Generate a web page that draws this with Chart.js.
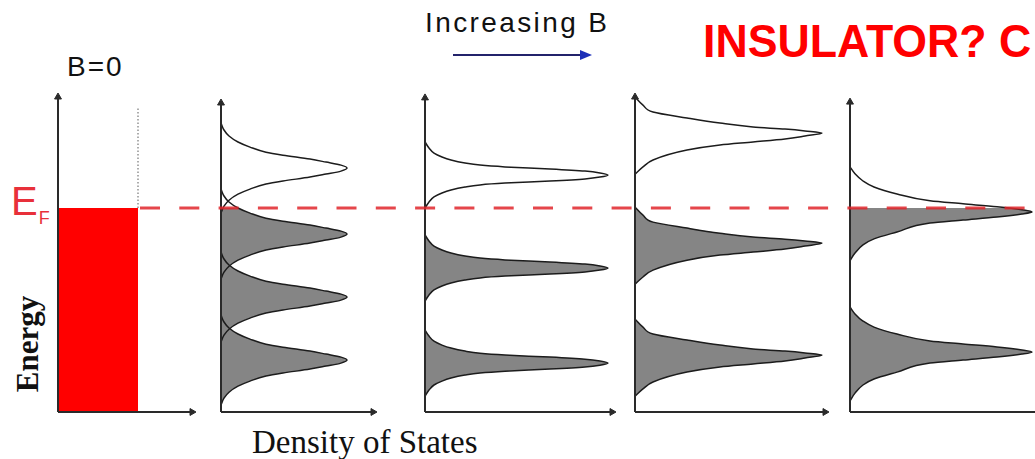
<!DOCTYPE html>
<html>
<head>
<meta charset="utf-8">
<title>Landau levels - density of states</title>
<script src="https://cdn.jsdelivr.net/npm/chart.js@4.4.1/dist/chart.umd.min.js"></script>
<style>
  html, body { margin: 0; padding: 0; background: #fff; }
  body { position: relative; width: 1035px; height: 459px; overflow: hidden; font-family: "Liberation Sans", Arial, sans-serif; }
  canvas { position: absolute; }
  .txt { position: absolute; white-space: nowrap; line-height: 1; }
</style>
</head>
<body>
<div class="txt" style="left:67px;top:53px;font-size:28px;letter-spacing:2px;color:#111">B=0</div>
<div class="txt" style="left:425px;top:9px;font-size:28px;letter-spacing:2.4px;color:#111">Increasing B</div>
<svg style="position:absolute;left:450px;top:48px" width="145" height="14">
  <line x1="3" y1="7" x2="132" y2="7" stroke="#23236b" stroke-width="2"/>
  <polygon points="130,2 142,7 130,12" fill="#1c2fb8"/>
</svg>
<div class="txt" style="left:703px;top:17px;font-size:47px;font-weight:bold;color:#ff0000;transform:scaleX(0.95);transform-origin:left top">INSULATOR? C</div>
<div class="txt" style="left:11px;top:181px;font-size:40px;color:#e8303a">E<span style="font-size:18px;position:relative;top:9px;left:1px">F</span></div>
<div class="txt" style="left:-32px;top:326px;width:120px;text-align:center;font:bold 31px 'Liberation Serif',serif;transform:rotate(-90deg);color:#111">Energy</div>
<div class="txt" style="left:252px;top:424px;font:33px 'Liberation Serif',serif;color:#111">Density of States</div>

<script>
// energies in arbitrary units (0..105), density of states in arbitrary units
const E_FERMI = 68;
const E_MAX = 105;

// B = 0: flat DOS, filled up to the Fermi level, dotted above
const b0Dos = 40;
const b0DottedTop = 101.3;

// length of the DOS axis and top of the energy axis, panel by panel
const axisLength = [67, 76, 93.5, 95, 100];
const axisTop = [105, 103, 104.7, 105, 103.3];

// Landau level energies in each B > 0 panel
const levels1 = [17.3, 38.3, 59.3, 81.3];
const levels2 = [16.3, 48, 79];
const levels3 = [19, 56.3, 93];
const levels4 = [20, 66.7];

// peak outline of each panel: energy offset from the level, and DOS
const shape1E = [-15, -12.7, -10.7, -8.7, -7, -5.3, -4.3, -3, -2, -1, 0, 1, 2, 3, 4.3, 5.3, 7, 8.7, 10.7, 12.7, 15];
const shape1Dos = [0, 1.5, 4, 8.5, 14.5, 22.5, 31, 44.5, 52.5, 60, 63, 60, 52.5, 44.5, 31, 22.5, 14.5, 8.5, 4, 1.5, 0];

const shape2E = [-11, -9, -7.3, -6, -5, -4, -3.3, -2.7, -2, -1.3, -0.7, 0, 0.7, 1.3, 2, 2.7, 3.3, 4, 5, 6, 7.3, 9, 11];
const shape2Dos = [0, 2, 4.5, 8.5, 13, 20, 27.5, 40, 62.5, 80, 87.5, 91.5, 87.5, 80, 62.5, 40, 27.5, 20, 13, 8.5, 4.5, 2, 0];

const shape3E = [-13.7, -11.3, -9, -5.7, -4, -3, -2, -1, 0, 0.7, 1.3, 2, 3.3, 5, 7, 9.3, 12];
const shape3Dos = [0, 4, 9, 26, 42.5, 59, 75, 85, 93.5, 85, 75, 59, 42.5, 26, 9, 4, 0];

const shape4E = [-16.3, -13.7, -11, -9, -6.7, -3.7, -2.7, -1.7, -0.7, 0, 0.7, 1.7, 2.7, 3.7, 6, 8.3, 10.3, 12.7, 15];
const shape4Dos = [0, 2.5, 6.5, 12, 23.5, 40, 56.5, 73.5, 86, 91, 86, 73.5, 56.5, 40, 23.5, 12, 6.5, 2.5, 0];

const fermiSpan = [0, 1];

// page layout
const PAD = 10;
const PX_E = 3;      // px per energy unit
const PX_D = 2;      // px per DOS unit
const TOP = 97;      // page y of E_MAX
const panelLeft = [58, 221, 425, 635, 850];

const AXIS = '#2a2a2a';
const LINE = '#1c1c1c';
const GRAY = '#858585';

function addCanvas(left, widthPx) {
    const cv = document.createElement('canvas');
    cv.width = widthPx + 2 * PAD;
    cv.height = E_MAX * PX_E + 2 * PAD;
    cv.style.left = (left - PAD) + 'px';
    cv.style.top = (TOP - PAD) + 'px';
    document.body.appendChild(cv);
    return cv;
}

// fill only the part of a peak that lies below the Fermi level
function belowFermi(color) {
    return (ctx) => {
        const chart = ctx.chart;
        const area = chart.chartArea;
        if (!area) return color;
        const yF = chart.scales.y.getPixelForValue(E_FERMI);
        const s = Math.min(1, Math.max(0, (yF - area.top) / (area.bottom - area.top)));
        const g = chart.ctx.createLinearGradient(0, area.top, 0, area.bottom);
        g.addColorStop(0, 'rgba(255,255,255,0)');
        g.addColorStop(s, 'rgba(255,255,255,0)');
        g.addColorStop(s, color);
        g.addColorStop(1, color);
        return g;
    };
}

function axes(i) {
    const arrow = { borderColor: AXIS, borderWidth: 2, pointStyle: 'triangle', pointBackgroundColor: AXIS, pointBorderColor: AXIS, pointBorderWidth: 1, fill: false, clip: false };
    return [
        { ...arrow, data: [{ x: 0, y: 0 }, { x: 0, y: axisTop[i] }], pointRadius: [0, 4], pointRotation: 0 },
        { ...arrow, data: [{ x: 0, y: 0 }, { x: axisLength[i], y: 0 }], pointRadius: [0, 4], pointRotation: 90 }
    ];
}

function peaks(levels, dE, dos) {
    return levels.map(lv => ({
        data: dE.map((d, k) => ({ x: dos[k], y: lv + d })),
        borderColor: LINE,
        borderWidth: 1.5,
        fill: 'origin',
        backgroundColor: belowFermi(GRAY),
        cubicInterpolationMode: 'monotone',
        pointRadius: 0,
        clip: false
    }));
}

function panelChart(i, datasets) {
    const cv = addCanvas(panelLeft[i], axisLength[i] * PX_D);
    return new Chart(cv, {
        type: 'line',
        data: { datasets },
        options: {
            responsive: false,
            animation: false,
            indexAxis: 'y',
            layout: { padding: PAD },
            scales: {
                x: { type: 'linear', display: false, min: 0, max: axisLength[i] },
                y: { type: 'linear', display: false, min: 0, max: E_MAX }
            },
            plugins: {
                legend: { display: false },
                tooltip: { enabled: false },
                filler: { drawTime: 'beforeDatasetsDraw' }
            },
            elements: { point: { radius: 0 } }
        }
    });
}

// B = 0 panel
panelChart(0, [
    ...axes(0),
    {
        data: [{ x: b0Dos, y: 0 }, { x: b0Dos, y: E_FERMI }],
        borderColor: 'rgba(0,0,0,0)', borderWidth: 1,
        fill: 'origin', backgroundColor: '#ff0000', pointRadius: 0, clip: false
    },
    {
        data: [{ x: b0Dos, y: E_FERMI }, { x: b0Dos, y: b0DottedTop }],
        borderColor: '#777', borderWidth: 1.2, borderDash: [1.5, 2],
        fill: false, pointRadius: 0, clip: false
    }
]);

// increasing B
panelChart(1, [...axes(1), ...peaks(levels1, shape1E, shape1Dos)]);
panelChart(2, [...axes(2), ...peaks(levels2, shape2E, shape2Dos)]);
panelChart(3, [...axes(3), ...peaks(levels3, shape3E, shape3Dos)]);
panelChart(4, [...axes(4), ...peaks(levels4, shape4E, shape4Dos)]);

// Fermi level across all panels
const fLeft = 140, fRight = 1035;
const fcv = document.createElement('canvas');
fcv.width = fRight - fLeft + 2 * PAD;
fcv.height = E_MAX * PX_E + 2 * PAD;
fcv.style.left = (fLeft - PAD) + 'px';
fcv.style.top = (TOP - PAD) + 'px';
document.body.appendChild(fcv);
new Chart(fcv, {
    type: 'line',
    data: {
        datasets: [{
            data: fermiSpan.map(x => ({ x, y: E_FERMI })),
            borderColor: 'rgba(224,38,44,0.85)',
            borderWidth: 3,
            borderDash: [20, 19.3],
            pointRadius: 0,
            fill: false,
            clip: false
        }]
    },
    options: {
        responsive: false,
        animation: false,
        layout: { padding: PAD },
        scales: {
            x: { type: 'linear', display: false, min: 0, max: 1 },
            y: { type: 'linear', display: false, min: 0, max: E_MAX }
        },
        plugins: { legend: { display: false }, tooltip: { enabled: false } }
    }
});
</script>
</body>
</html>
